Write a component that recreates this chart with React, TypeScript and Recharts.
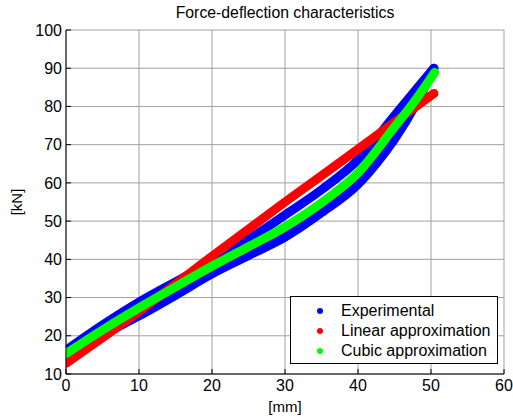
import { LineChart, Line, XAxis, YAxis, CartesianGrid, Legend } from 'recharts';

const FONT = '"Liberation Sans", Arial, Helvetica, sans-serif';

// Experimental loop, loading branch (upper) and unloading branch (lower)
const loadingMm = [0, 5, 10, 15, 20, 25, 30, 35, 40, 45, 48, 50.4];
const loadingKN = [16.2, 22.8, 28.8, 34.1, 39.4, 45.2, 51.6, 58.2, 66.0, 77.6, 84.5, 90.0];
const unloadingMm = [0, 5, 10, 15, 20, 25, 30, 35, 40, 42.5, 45, 48, 50.4];
const unloadingKN = [14.8, 20.2, 25.2, 30.6, 36.2, 41.0, 45.8, 52.2, 59.6, 65.0, 71.4, 80.8, 90.0];

// fitted curves
const linearMm = [0, 10, 20, 30, 40, 50.4];
const linearKN = [12.8, 26.3, 40.8, 55.0, 68.8, 83.4];
const cubicMm = [0, 5, 10, 15, 20, 25, 30, 35, 40, 45, 48, 50.5];
const cubicKN = [15.3, 21.5, 27.3, 32.8, 38.2, 43.3, 48.5, 54.8, 62.6, 74.6, 82.0, 88.9];

const xTicks = [0, 10, 20, 30, 40, 50, 60];
const yTicks = [10, 20, 30, 40, 50, 60, 70, 80, 90, 100];

const legendOrder = ['Experimental', 'Linear approximation', 'Cubic approximation'];

const toPoints = (xs: number[], ys: number[]) => xs.map((x, i) => ({ x, y: ys[i] }));

const loadingData = toPoints(loadingMm, loadingKN);
const unloadingData = toPoints(unloadingMm, unloadingKN);
const linearData = toPoints(linearMm, linearKN);
const cubicData = toPoints(cubicMm, cubicKN);

const tickStyle = { fontSize: 16, fill: '#000', fontFamily: FONT };
const labelStyle = { fontSize: 15, fill: '#000', fontFamily: FONT };

const seriesStyle = {
  strokeWidth: 9,
  strokeLinecap: 'round' as const,
  strokeLinejoin: 'round' as const,
  dot: false,
  activeDot: false,
  isAnimationActive: false,
  type: 'monotone' as const,
};

function LegendBox({ payload }: any) {
  const entries = (payload || []).filter((p: any) => p.type !== 'none');
  const items = legendOrder
    .map((name) => entries.find((p: any) => p.value === name))
    .filter(Boolean);
  return (
    <div
      style={{
        width: 206,
        height: 62,
        border: '1px solid #000',
        background: '#fff',
        fontFamily: FONT,
        fontSize: 16,
        color: '#000',
        boxSizing: 'content-box',
        paddingTop: 4,
      }}
    >
      {items.map((item: any) => (
        <div key={item.value} style={{ display: 'flex', alignItems: 'center', height: 20 }}>
          <span
            style={{
              width: 6,
              height: 6,
              borderRadius: 3,
              background: item.color,
              marginLeft: 26,
              marginRight: 18,
              flexShrink: 0,
            }}
          />
          <span style={{ whiteSpace: 'nowrap' }}>{item.value}</span>
        </div>
      ))}
    </div>
  );
}

export default function App() {
  return (
    <div style={{ position: 'absolute', left: 0, top: 0, width: 513, height: 420, background: '#fff' }}>
      <div
        style={{
          position: 'absolute',
          left: 66,
          width: 438,
          top: 4,
          textAlign: 'center',
          fontFamily: FONT,
          fontSize: 15.8,
          lineHeight: '18px',
          color: '#000',
        }}
      >
        Force-deflection characteristics
      </div>
      <LineChart width={513} height={420} margin={{ top: 30, right: 9, bottom: 6, left: 6 }}>
        <CartesianGrid stroke="#a0a0a0" />
        <XAxis
          type="number"
          dataKey="x"
          domain={[0, 60]}
          ticks={xTicks}
          height={40}
          tick={tickStyle}
          tickSize={-5}
          tickMargin={11}
          axisLine={{ stroke: '#000' }}
          tickLine={{ stroke: '#000' }}
          allowDataOverflow
          label={{ value: '[mm]', position: 'insideBottom', offset: 2, style: labelStyle }}
        />
        <XAxis
          xAxisId="top"
          orientation="top"
          type="number"
          dataKey="x"
          domain={[0, 60]}
          ticks={xTicks}
          height={0}
          tick={false}
          tickSize={-5}
          axisLine={{ stroke: '#000' }}
          tickLine={{ stroke: '#000' }}
        />
        <YAxis
          type="number"
          domain={[10, 100]}
          ticks={yTicks}
          width={60}
          tick={tickStyle}
          tickSize={-5}
          tickMargin={9}
          axisLine={{ stroke: '#000' }}
          tickLine={{ stroke: '#000' }}
          allowDataOverflow
          label={{
            value: '[kN]',
            angle: -90,
            position: 'insideLeft',
            offset: 11,
            style: { ...labelStyle, textAnchor: 'middle' },
          }}
        />
        <YAxis
          yAxisId="right"
          orientation="right"
          type="number"
          domain={[10, 100]}
          ticks={yTicks}
          width={0}
          tick={false}
          tickSize={-5}
          axisLine={{ stroke: '#000' }}
          tickLine={{ stroke: '#000' }}
        />
        <Line data={loadingData} dataKey="y" name="Experimental" stroke="#0000ff" {...seriesStyle} />
        <Line data={unloadingData} dataKey="y" name="Experimental (unloading)" stroke="#0000ff" legendType="none" {...seriesStyle} />
        <Line data={linearData} dataKey="y" name="Linear approximation" stroke="#ff0000" {...seriesStyle} />
        <Line data={cubicData} dataKey="y" name="Cubic approximation" stroke="#00ff00" {...seriesStyle} />
        <Legend
          layout="vertical"
          align="center"
          verticalAlign="middle"
          content={<LegendBox />}
          wrapperStyle={{ position: 'absolute', left: 290, top: 296, width: 208, height: 67 }}
        />
      </LineChart>
    </div>
  );
}
